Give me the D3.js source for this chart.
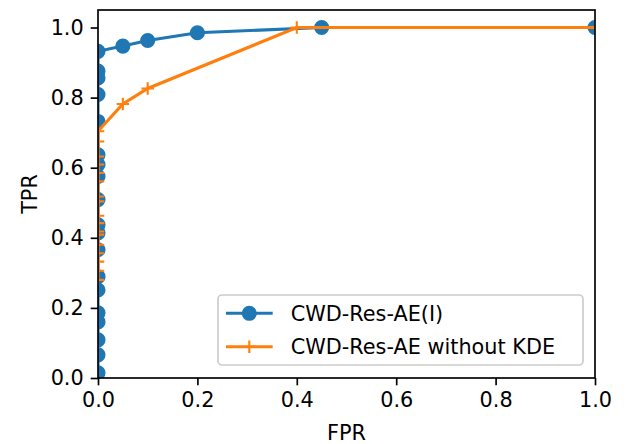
<!DOCTYPE html>
<html>
<head>
<meta charset="utf-8">
<script src="https://cdn.jsdelivr.net/npm/d3@7"></script>
<style>
  body { margin: 0; background: #fff; }
  svg { display: block; }
  text { font-family: "DejaVu Sans", sans-serif; fill: #000; }
</style>
</head>
<body>
<svg></svg>
<script>
// ROC points
var aeFpr = [0, 0, 0, 0, 0, 0, 0, 0, 0, 0, 0, 0, 0, 0, 0, 0, 0, 0, 0, 0.05, 0.1, 0.2, 0.45, 1.0];
var aeTpr = [0.015, 0.066, 0.109, 0.160, 0.186, 0.251, 0.289, 0.366, 0.414, 0.437, 0.509, 0.575, 0.609, 0.637, 0.732, 0.809, 0.856, 0.876, 0.932, 0.947, 0.963, 0.985, 1.0, 1.0];
var noKdeFpr = [0, 0, 0, 0, 0, 0, 0, 0, 0, 0, 0, 0, 0, 0, 0, 0, 0, 0.05, 0.1, 0.4, 1.0];
var noKdeTpr = [0.280, 0.306, 0.332, 0.356, 0.380, 0.409, 0.418, 0.442, 0.463, 0.504, 0.518, 0.561, 0.585, 0.609, 0.632, 0.675, 0.704, 0.782, 0.826, 1.0, 1.0];
var seriesNames = ["CWD-Res-AE(I)", "CWD-Res-AE without KDE"];
var xTicks = [0, 0.2, 0.4, 0.6, 0.8, 1.0];
var yTicks = [0, 0.2, 0.4, 0.6, 0.8, 1.0];

var Roc;
(function (Roc) {
    var W = 627, H = 444;
    var BLUE = "#1f77b4", ORANGE = "#ff7f0e";
    var FONT = 20.8;
    var left = 98, right = 595, top = 10, bottom = 378;

    function zip(xs, ys) {
        return xs.map(function (x, i) { return { x: x, y: ys[i] }; });
    }

    function draw() {
        var svg = d3.select("svg").attr("width", W).attr("height", H);
        var x = d3.scaleLinear().domain([0, 1]).range([left, right]);
        var y = d3.scaleLinear().domain([0, 1.05]).range([bottom, top]);

        svg.append("defs").append("clipPath").attr("id", "plot")
            .append("rect")
            .attr("x", left).attr("y", top)
            .attr("width", right - left).attr("height", bottom - top);

        var line = d3.line()
            .x(function (d) { return x(d.x); })
            .y(function (d) { return y(d.y); });

        var plot = svg.append("g").attr("clip-path", "url(#plot)");

        var ae = zip(aeFpr, aeTpr);
        plot.append("path").datum(ae)
            .attr("d", line)
            .attr("fill", "none").attr("stroke", BLUE)
            .attr("stroke-width", 3.1).attr("stroke-linecap", "square");
        plot.selectAll("circle.ae").data(ae).enter().append("circle")
            .attr("class", "ae")
            .attr("cx", function (d) { return x(d.x); })
            .attr("cy", function (d) { return y(d.y); })
            .attr("r", 6.5)
            .attr("fill", BLUE).attr("stroke", BLUE).attr("stroke-width", 2.1);

        var nk = zip(noKdeFpr, noKdeTpr);
        plot.append("path").datum(nk)
            .attr("d", line)
            .attr("fill", "none").attr("stroke", ORANGE)
            .attr("stroke-width", 3.1).attr("stroke-linecap", "square");
        var s = 6.25;
        plot.selectAll("path.nk").data(nk).enter().append("path")
            .attr("class", "nk")
            .attr("d", function (d) {
                var cx = x(d.x), cy = y(d.y);
                return "M" + (cx - s) + "," + cy + "H" + (cx + s) +
                       "M" + cx + "," + (cy - s) + "V" + (cy + s);
            })
            .attr("stroke", ORANGE).attr("stroke-width", 2.1).attr("fill", "none");

        // axes
        var xAxis = d3.axisBottom(x).tickValues(xTicks).tickFormat(d3.format(".1f"))
            .tickSize(7.3).tickPadding(7).tickSizeOuter(0);
        var yAxis = d3.axisLeft(y).tickValues(yTicks).tickFormat(d3.format(".1f"))
            .tickSize(7.3).tickPadding(7).tickSizeOuter(0);

        var gx = svg.append("g").attr("transform", "translate(0," + bottom + ")").call(xAxis);
        var gy = svg.append("g").attr("transform", "translate(" + left + ",0)").call(yAxis);
        [gx, gy].forEach(function (g) {
            g.select(".domain").remove();
            g.selectAll("line").attr("stroke", "#000").attr("stroke-width", 1.67);
            g.selectAll("text").attr("font-size", FONT)
                .attr("font-family", "DejaVu Sans").attr("fill", "#000");
        });

        svg.append("rect")
            .attr("x", left).attr("y", top)
            .attr("width", right - left).attr("height", bottom - top)
            .attr("fill", "none").attr("stroke", "#000").attr("stroke-width", 1.67);

        svg.append("text")
            .attr("x", (left + right) / 2).attr("y", 440)
            .attr("text-anchor", "middle").attr("font-size", FONT)
            .text("FPR");
        svg.append("text")
            .attr("transform", "translate(37," + ((top + bottom) / 2) + ") rotate(-90)")
            .attr("text-anchor", "middle").attr("font-size", FONT)
            .text("TPR");

        // legend
        var lg = svg.append("g");
        lg.append("rect")
            .attr("x", 218).attr("y", 295).attr("width", 365).attr("height", 70)
            .attr("rx", 4).attr("ry", 4)
            .attr("fill", "#fff").attr("fill-opacity", 0.8)
            .attr("stroke", "#cccccc").attr("stroke-width", 1.67);
        var rows = [313.3, 346.7];
        rows.forEach(function (ry, i) {
            var c = i === 0 ? BLUE : ORANGE;
            lg.append("line")
                .attr("x1", 226).attr("x2", 272.7).attr("y1", ry).attr("y2", ry)
                .attr("stroke", c).attr("stroke-width", 3.1);
            if (i === 0) {
                lg.append("circle").attr("cx", 249.3).attr("cy", ry).attr("r", 6.5)
                    .attr("fill", c).attr("stroke", c).attr("stroke-width", 2.1);
            } else {
                lg.append("path")
                    .attr("d", "M" + (249.3 - s) + "," + ry + "H" + (249.3 + s) +
                               "M249.3," + (ry - s) + "V" + (ry + s))
                    .attr("stroke", c).attr("stroke-width", 2.1);
            }
            lg.append("text")
                .attr("x", 290.7).attr("y", ry).attr("dy", "0.36em")
                .attr("font-size", FONT)
                .text(seriesNames[i]);
        });
    }
    Roc.draw = draw;
})(Roc || (Roc = {}));

Roc.draw();
</script>
</body>
</html>
